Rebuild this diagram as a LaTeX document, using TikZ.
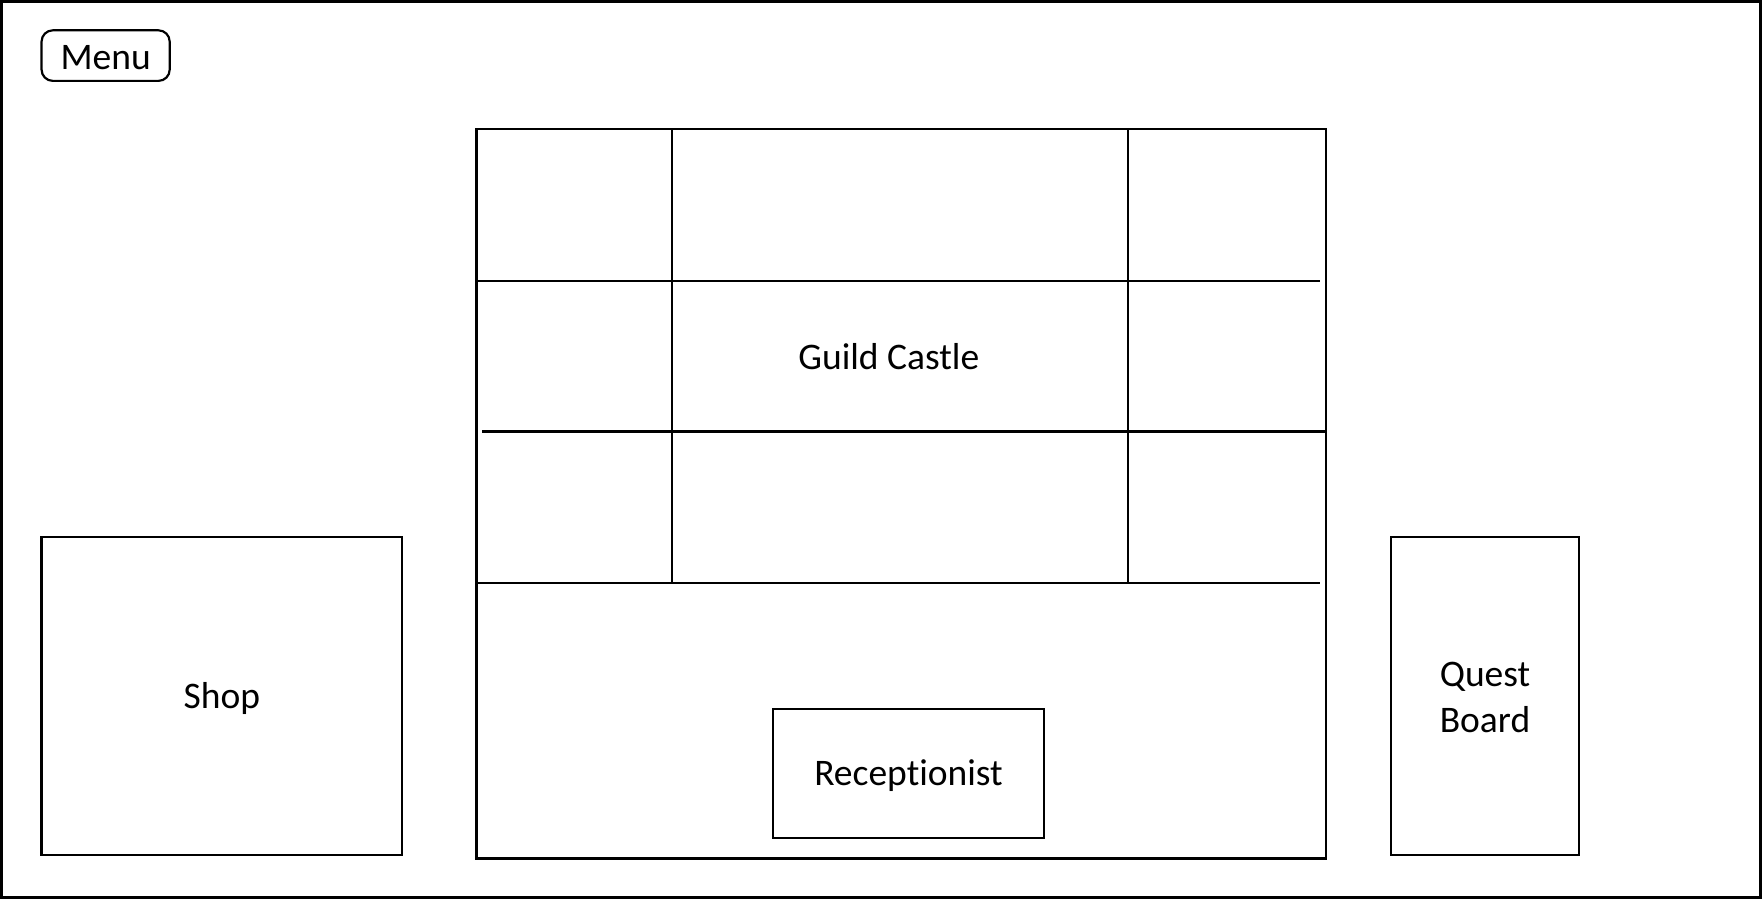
\documentclass[tikz,border=0pt]{standalone}
\usepackage{fontspec}
\setmainfont{Carlito}[Ligatures={NoCommon}]
\usetikzlibrary{positioning}

\tikzset{
	box/.style={draw, line width=0.55pt, inner sep=0pt},
	wall/.style={line width=0.55pt},
	lbl/.style={font=\fontsize{9.5}{11.6}\selectfont, align=center}
}

\begin{document}
\begin{tikzpicture}[x=0.1mm, y=-0.1mm]
	\useasboundingbox (0,0) rectangle (1568,800);
	\draw[line width=0.8pt] (1.5,1.5) rectangle (1566.5,798.5);
	% menu button
	\node [box, rounded corners=1mm, minimum width=11.4mm, minimum height=4.5mm] (menu) at (94,49.5) {};
	\node [lbl] at (94,51) {Menu};
	% castle
	\node [box, minimum width=75.6mm, minimum height=64.9mm] (castle) at (802,439.5) {};
	\node [lbl] (guild) at (791,317.5) {Guild Castle};
	\draw [wall] (598,115) -- (598,519);
	\draw [wall] (1004,115) -- (1004,519);
	\draw [wall] (424,250) -- (1175,250);
	\draw [wall] (429,384) -- (1180,384);
	\draw [wall] (424,519) -- (1175,519);
	\node [box, minimum width=24.1mm, minimum height=11.5mm] (recep) at (808.5,688.5) {};
	\node [lbl] at (recep.center) [yshift=-0.2mm] {Receptionist};
	% side buildings
	\node [box, minimum width=32.1mm, minimum height=28.3mm] (shop) at (197.5,619.5) {};
	\node [lbl] at (shop.center) [yshift=-0.2mm] {Shop};
	\node [box, minimum width=16.7mm, minimum height=28.3mm] (quest) at (1321.5,619.5) {};
	\node [lbl] at (quest.center) [yshift=-0.1mm] {Quest\\Board};
\end{tikzpicture}
\end{document}
